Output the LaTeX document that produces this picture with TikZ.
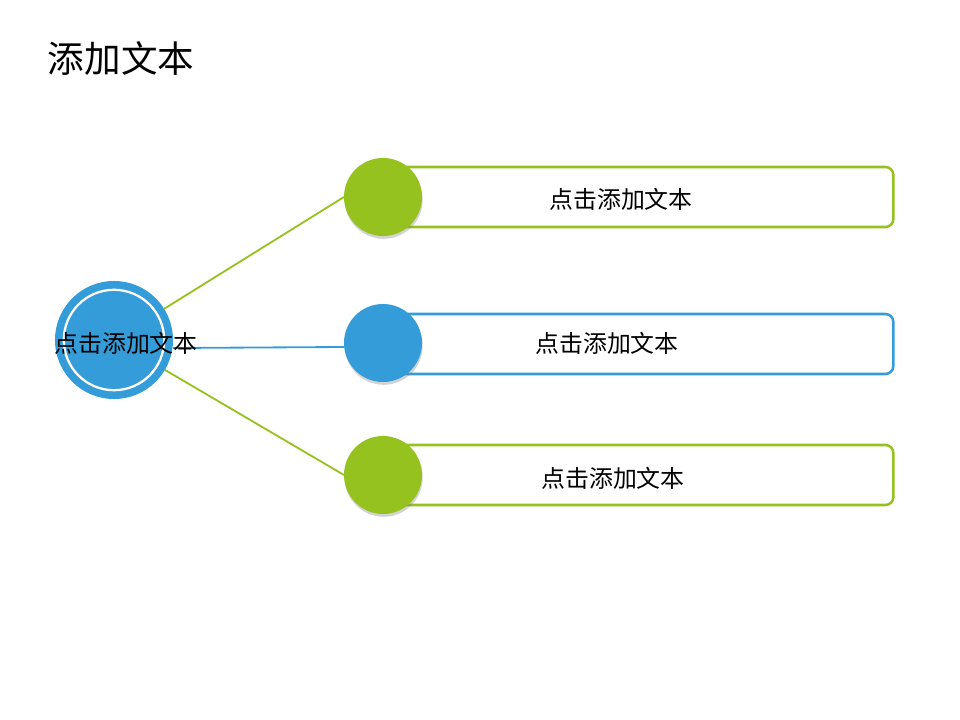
\documentclass[tikz,border=0pt]{standalone}
\usepackage{fontspec}
\newfontfamily\cjk{Noto Sans CJK SC}
\usetikzlibrary{shadows, positioning}
\definecolor{dotgreen}{RGB}{150,194,31}
\definecolor{dotblue}{RGB}{52,157,217}

\begin{document}
\begin{tikzpicture}[
  x=0.025cm, y=-0.025cm,
  every node/.style={font=\cjk\fontsize{17}{20}\selectfont},
  hubnode/.style={circle, fill=dotblue, minimum size=2.95cm, inner sep=0pt, outer sep=0pt},
  dotnode/.style={circle, fill=#1, minimum size=1.95cm, inner sep=0pt, outer sep=0pt,
    drop shadow={opacity=0.35, shadow xshift=0.5pt, shadow yshift=-2pt}},
  boxnode/.style={rectangle, draw=#1, fill=white, line width=1.8pt, rounded corners=0.2cm,
    minimum width=12.725cm, minimum height=1.5cm, anchor=west},
  link/.style={draw=#1, line width=1.3pt},
]
\useasboundingbox (0,0) rectangle (960,720);

%% Title
\node[font=\cjk\fontsize{26}{30}\selectfont] (title) at (121, 59) {添加文本};

%% Hub circle
\node[hubnode] (hub) at (114, 340) {};

%% Boxes
\node[boxnode=dotgreen] (box1) at (383, 197) {};
\node[boxnode=dotblue] (box2) at (383, 344) {};
\node[boxnode=dotgreen] (box3) at (383, 475) {};

%% Dots
\node[dotnode=dotgreen] (dot1) at (383, 197) {};
\node[dotnode=dotblue] (dot2) at (383, 343) {};
\node[dotnode=dotgreen] (dot3) at (383, 475) {};

%% Connectors
\draw[link=dotgreen] (hub) -- (dot1.west);
\draw[link=dotblue] ([yshift=-0.2cm]hub.east) -- ([yshift=-0.1cm]dot2.west);
\draw[link=dotgreen] (hub) -- (dot3.west);

%% White ring on hub
\draw[white, line width=1.6pt] (hub.center) circle (1.255cm);
\node (hubtext) at (126, 343) {点击添加文本};

%% Box labels
\node (lbl1) at (621, 199) {点击添加文本};
\node (lbl2) at (607, 343) {点击添加文本};
\node (lbl3) at (613, 478) {点击添加文本};

\end{tikzpicture}
\end{document}
